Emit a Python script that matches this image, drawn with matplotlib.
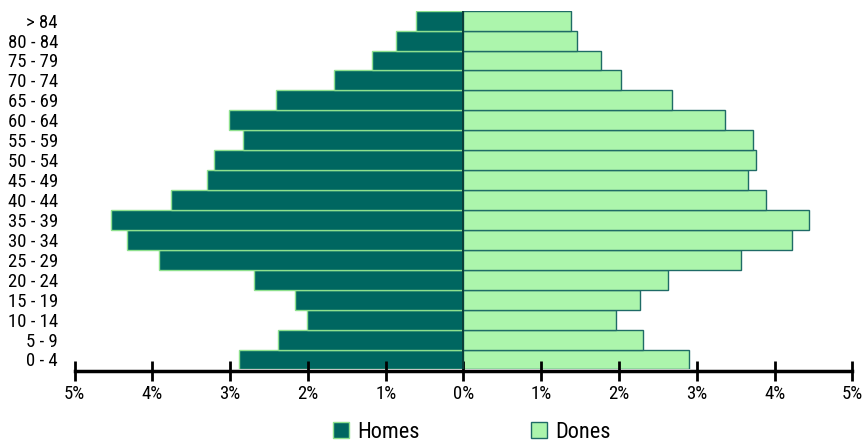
import matplotlib
matplotlib.use("Agg")
import matplotlib.pyplot as plt
from matplotlib.patches import Patch
from matplotlib.ticker import FuncFormatter

plt.rcParams['font.family'] = ['Roboto Condensed', 'Archivo Narrow', 'Liberation Sans', 'DejaVu Sans']

age_groups = ["0 - 4", "5 - 9", "10 - 14", "15 - 19", "20 - 24", "25 - 29", "30 - 34",
              "35 - 39", "40 - 44", "45 - 49", "50 - 54", "55 - 59", "60 - 64",
              "65 - 69", "70 - 74", "75 - 79", "80 - 84", "> 84"]
homes = [2.884, 2.390, 2.017, 2.171, 2.698, 3.920, 4.324, 4.530, 3.766, 3.303,
         3.213, 2.840, 3.016, 2.415, 1.662, 1.181, 0.864, 0.607]
dones = [2.900, 2.305, 1.965, 2.274, 2.626, 3.573, 4.229, 4.444, 3.895, 3.663,
         3.766, 3.723, 3.360, 2.686, 2.030, 1.772, 1.456, 1.383]
x_ticks = [-5, -4, -3, -2, -1, 0, 1, 2, 3, 4, 5]

dark = "#006660"
light = "#ACF5AC"
dark_edge = "#1F6B66"
light_edge = "#8EE08E"

fig = plt.figure(figsize=(8.64, 4.43), dpi=100)
ax = fig.add_axes([0.0863, 0.166, 0.9003, 0.810])

y = list(range(len(age_groups)))
ax.barh(y, [-v for v in homes], height=1.0, color=dark, edgecolor=light_edge, linewidth=1.0)
ax.barh(y, dones, height=1.0, color=light, edgecolor=dark_edge, linewidth=1.0)
ax.axvline(0, color="#0B3D3A", lw=1.4, zorder=3)

ax.set_xlim(-5, 5)
ax.set_ylim(-0.5, len(age_groups) - 0.5)
ax.set_yticks(y)
ax.set_yticklabels(age_groups, fontsize=13.5)
ax.tick_params(axis='y', length=0, pad=12)
ax.set_xticks(x_ticks)
ax.xaxis.set_major_formatter(FuncFormatter(lambda v, p: f"{abs(int(round(v)))}%"))
ax.tick_params(axis='x', direction='inout', length=14, width=2, labelsize=13.5, pad=3)

for s in ['top', 'right', 'left']:
    ax.spines[s].set_visible(False)
ax.spines['bottom'].set_linewidth(2.5)
ax.spines['bottom'].set_position(('outward', 1))

handles = [Patch(facecolor=dark, edgecolor=light_edge, label="Homes"),
           Patch(facecolor=light, edgecolor=dark_edge, label="Dones")]
fig.legend(handles=handles, loc='lower center', bbox_to_anchor=(0.546, -0.045), ncol=2,
           frameon=False, fontsize=16, handlelength=0.75, handleheight=0.75,
           handletextpad=0.35, columnspacing=5.0)

fig.savefig("out.png", dpi=100)
